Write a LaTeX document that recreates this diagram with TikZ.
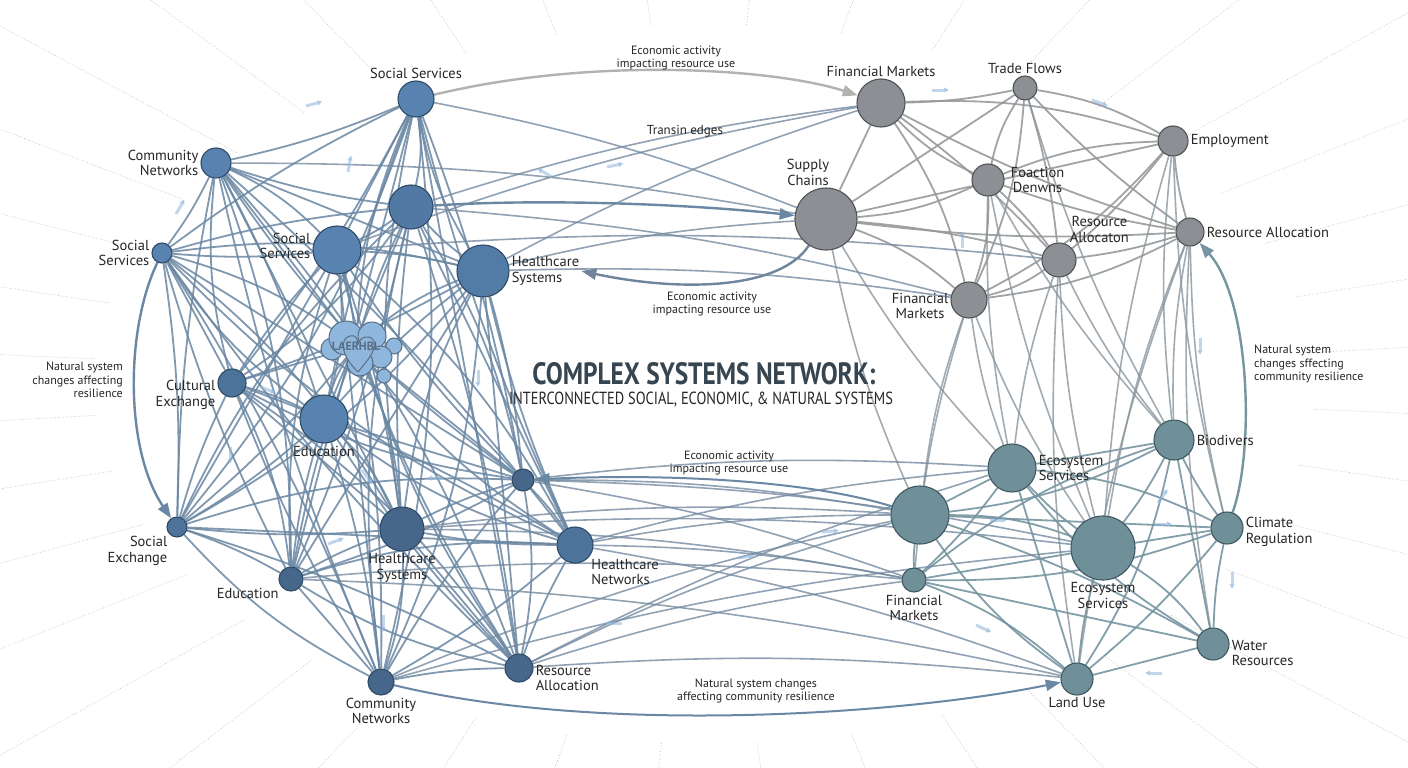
\documentclass[tikz,border=0pt]{standalone}
\usepackage{fontspec}
\setmainfont{PT Sans}
\usepackage{graphicx}
\usetikzlibrary{arrows.meta, calc}
\definecolor{bluefill}{HTML}{5883B0}
\definecolor{bluemid}{HTML}{4D739B}
\definecolor{bluedark}{HTML}{46668A}
\definecolor{blueline}{HTML}{2E4A66}
\definecolor{cloudfill}{HTML}{8FB6DC}
\definecolor{grayfill}{HTML}{8C8F93}
\definecolor{grayline}{HTML}{4F5256}
\definecolor{tealfill}{HTML}{6F8F99}
\definecolor{tealline}{HTML}{3F5861}
\definecolor{bedgecol}{HTML}{6A87A3}
\definecolor{gedgecol}{HTML}{97999C}
\definecolor{tedgecol}{HTML}{7695A0}
\definecolor{titlecol}{HTML}{36454F}
\pgfdeclarelayer{rays}
\pgfdeclarelayer{edges}
\pgfsetlayers{rays,edges,main}

\begin{document}
\begin{tikzpicture}[x=1pt,y=-1pt,
    bnode/.style={circle, draw=blueline, fill=bluefill, line width=1.1pt, inner sep=0pt, minimum size=#1},
    gnode/.style={circle, draw=grayline, fill=grayfill, line width=1.1pt, inner sep=0pt, minimum size=#1},
    tnode/.style={circle, draw=tealline, fill=tealfill, line width=1.1pt, inner sep=0pt, minimum size=#1},
    lbl/.style={font=\fontsize{14.5}{15.5}\selectfont, align=center, inner sep=2pt, text=black!85},
    elbl/.style={font=\fontsize{12}{13.5}\selectfont, align=center, inner sep=1pt, text=black!85},
    bedge/.style={draw=bedgecol, line width=1.8pt, opacity=.85},
    gedge/.style={draw=gedgecol, line width=1.8pt, opacity=.9},
    tedge/.style={draw=tedgecol, line width=1.8pt, opacity=.9},
    xedge/.style={draw=bedgecol!75!gedgecol, line width=1.6pt, opacity=.8},
    arr/.style={-{Triangle[length=15pt,width=11pt]}, line width=2.4pt},
    ghost/.style={-{Triangle[length=5pt,width=5pt]}, line width=3pt, draw=cloudfill, opacity=.55},
    ray/.style={dotted, draw=gray!50, line width=.7pt},
  ]
  \useasboundingbox (0,0) rectangle (1408,768);

  % background rays
  \begin{pgfonlayer}{rays}
    \fill[white] (0,0) rectangle (1408,768);
    \clip (0,0) rectangle (1408,768);
    \foreach \ang in {4,13,...,360}
      \draw[ray] ($(704,384)+(\ang:610 and 360)$) -- ($(704,384)+(\ang:1300 and 800)$);
  \end{pgfonlayer}

  % social cluster
  \node[bnode=36pt, label={[lbl]above:Social Services}] (SS1) at (416,99) {};
  \node[bnode=30pt, label={[lbl,align=right]left:Community\\Networks}] (CN1) at (216,163) {};
  \node[bnode=20pt, label={[lbl,align=right]left:Social\\Services}] (SS2) at (162,253) {};
  \node[bnode=44pt, fill=bluemid!60!bluefill] (B1) at (411,207) {};
  \node[bnode=48pt, label={[lbl,align=right,yshift=4pt]left:Social\\Services}] (SS3) at (337,250) {};
  \node[bnode=52pt, fill=bluemid!50!bluefill, label={[lbl,align=left,name=HS1l]right:Healthcare\\Systems}] (HS1) at (483,271) {};
  \node[bnode=28pt, fill=bluemid, label={[lbl,align=right,yshift=-12pt]left:Cultural\\Exchange}] (CE) at (232,383) {};
  \node[bnode=48pt, label={[lbl]below:Education}] (ED1) at (324,419) {};
  \node[bnode=20pt, fill=bluemid, label={[lbl,align=right]225:Social\\Exchange}] (SX) at (177,527) {};
  \node[bnode=24pt, fill=bluedark, label={[lbl]215:Education}] (ED2) at (291,579) {};
  \node[bnode=44pt, fill=bluedark, label={[lbl]below:Healthcare\\Systems}] (HS2) at (402,529) {};
  \node[bnode=22pt, fill=bluedark] (SM) at (523,480) {};
  \node[bnode=36pt, fill=bluemid, label={[lbl,align=left]-40:Healthcare\\Networks}] (HN) at (575,545) {};
  \node[bnode=26pt, fill=bluedark, label={[lbl]below:Community\\Networks}] (CN2) at (381,682) {};
  \node[bnode=28pt, fill=bluedark, label={[lbl,align=left,yshift=-10pt]right:Resource\\Allocation}] (RA1) at (519,668) {};

  % cloud
  \foreach \cx/\cy/\cr in {332/349/11, 346/338/17, 372/336/14, 394/346/8, 381/357/11, 360/363/13, 384/376/7}
    \filldraw[fill=cloudfill, draw=blueline!80, line width=1pt] (\cx,\cy) circle (\cr);
  \draw[fill=cloudfill, draw=blueline!80, line width=1pt] (358,372) .. controls (340,355) and (340,338) .. (350,336) .. controls (356,334) and (358,340) .. (358,344) .. controls (360,336) and (372,334) .. (374,342) .. controls (376,352) and (366,362) .. (358,372);
  \node[font=\fontsize{12}{12}\selectfont\bfseries, text=blueline!80, inner sep=1pt] (CL) at (356,346) {LAERHBL};

  % economic cluster
  \node[gnode=48pt, label={[lbl]above:Financial Markets}] (FM1) at (881,103) {};
  \node[gnode=24pt, label={[lbl]above:Trade Flows}] (TF) at (1025,88) {};
  \node[gnode=30pt, label={[lbl]right:Employment}] (EM) at (1173,141) {};
  \node[gnode=62pt, label={[lbl,xshift=-18pt]above:Supply\\Chains}] (SC) at (826,219) {};
  \node[gnode=32pt, label={[lbl,xshift=4pt]right:Foaction\\Denwns}] (FD) at (988,180) {};
  \node[gnode=34pt, label={[lbl]60:Resource\\Allocaton}] (RA2) at (1059,260) {};
  \node[gnode=28pt, label={[lbl]right:Resource Allocation}] (RA3) at (1190,232) {};
  \node[gnode=36pt, label={[lbl,yshift=-6pt]left:Financial\\Markets}] (FM2) at (969,300) {};

  % natural cluster
  \node[tnode=40pt, label={[lbl]right:Biodivers}] (BD) at (1174,440) {};
  \node[tnode=48pt, label={[lbl,align=left]right:Ecosystem\\Services}] (ES1) at (1012,468) {};
  \node[tnode=58pt] (BIG) at (920,515) {};
  \node[tnode=32pt, label={[lbl,align=left,yshift=-4pt]right:Climate\\Regulation}] (CR) at (1227,528) {};
  \node[tnode=64pt, label={[lbl]below:Ecosystem\\Services}] (ES2) at (1103,548) {};
  \node[tnode=24pt, label={[lbl]below:Financial\\Markets}] (FM3) at (914,580) {};
  \node[tnode=32pt, label={[lbl,align=left,yshift=-9pt]right:Water\\Resources}] (WR) at (1213,644) {};
  \node[tnode=32pt, label={[lbl]below:Land Use}] (LU) at (1077,679) {};

  % title
  \node[text=titlecol, inner sep=0pt] (title) at (704,374)
    {\resizebox{343pt}{22pt}{\bfseries COMPLEX SYSTEMS NETWORK:}};
  \node[text=black!85, inner sep=0pt, anchor=north] (subtitle) at (701,392)
    {\resizebox{384pt}{12.5pt}{INTERCONNECTED SOCIAL, ECONOMIC, \& NATURAL SYSTEMS}};

  % edge labels
  \node[elbl] (e1) at (676,58) {Economic activity\\impacting resource use};
  \node[elbl, font=\fontsize{13}{14}\selectfont] (e2) at (685,131) {Transin edges};
  \node[elbl] (e3) at (712,304) {Economic activity\\impacting resource use};
  \node[elbl] (e4) at (729,463) {Economic activity\\impacting resource use};
  \node[elbl] (e5) at (756,691) {Natural system changes\\affecting community resilience};
  \node[elbl, align=right, anchor=east] (e6) at (124,380) {Natural system\\changes affecting\\resilience};
  \node[elbl, align=left, anchor=west] (e7) at (1253,364) {Natural system\\changes sffecting\\community resilience};

  \begin{pgfonlayer}{edges}
    % dense links inside each cluster
    \foreach \a [count=\i] in {SS1,CN1,SS2,B1,SS3,HS1,CE,ED1,SX,ED2,HS2,SM,HN,CN2,RA1,CL}
      \foreach \b [count=\j] in {SS1,CN1,SS2,B1,SS3,HS1,CE,ED1,SX,ED2,HS2,SM,HN,CN2,RA1,CL}
        {\ifnum\j>\i\relax
          \pgfmathtruncatemacro\bnd{mod(\i*7+\j*3,5)*5-10}
          \draw[bedge] (\a) to[bend left=\bnd] (\b);
         \fi}
    \foreach \a [count=\i] in {FM1,TF,EM,SC,FD,RA2,RA3,FM2}
      \foreach \b [count=\j] in {FM1,TF,EM,SC,FD,RA2,RA3,FM2}
        {\ifnum\j>\i\relax
          \pgfmathtruncatemacro\bnd{mod(\i*5+\j*3,5)*5-10}
          \draw[gedge] (\a) to[bend left=\bnd] (\b);
         \fi}
    \foreach \a [count=\i] in {BD,ES1,BIG,CR,ES2,FM3,WR,LU}
      \foreach \b [count=\j] in {BD,ES1,BIG,CR,ES2,FM3,WR,LU}
        {\ifnum\j>\i\relax
          \pgfmathtruncatemacro\bnd{mod(\i*3+\j*7,5)*5-10}
          \draw[tedge] (\a) to[bend left=\bnd] (\b);
         \fi}
    % economic to natural
    \foreach \a/\b in {FM2/ES1, FM2/BIG, FM2/FM3, RA2/BD, RA2/ES2, RA2/LU, RA3/BD, RA3/ES2, RA3/CR, RA3/WR,
                       EM/BD, EM/ES2, FD/ES1, FD/ES2, FD/BD, SC/BIG, SC/ES1, TF/BD, RA2/ES1, FM2/ES2, RA3/LU, EM/CR}
      \draw[xedge, draw=gedgecol!60!tedgecol] (\a) to[bend right=6] (\b);
    % social to the others
    \foreach \a/\b in {SS3/FM1, HS1/FM1, B1/FM1, HS1/SC, SS1/SC, B1/FM2, SS3/RA2, CN1/SC, HS2/BIG, HN/BIG,
                       HN/FM3, RA1/FM3, RA1/BIG, SM/ES1, SM/FM3, SM/ES2, RA1/LU, ED2/FM3, HS2/FM3, CN2/ES2,
                       HN/LU, HN/ES1, RA1/ES1, CN2/BIG, ED2/LU, HS2/ES2, SM/BIG, HS1/FM2}
      \draw[xedge] (\a) to[bend left=5] (\b);

    % labelled flows
    \draw[arr, draw=gray!60] (SS1) .. controls (600,55) and (780,70) .. (FM1);
    \draw[arr, draw=bedgecol] (B1) .. controls (550,198) and (700,205) .. (SC);
    \draw[arr, draw=bedgecol!80!gray] (SC) .. controls (780,290) and (680,292) .. (HS1l.east);
    \draw[arr, draw=bedgecol, line width=2pt] (BIG) .. controls (800,478) and (650,474) .. (SM);
    \draw[arr, draw=bedgecol, line width=2pt] (CN2) .. controls (600,735) and (900,715) .. (LU);
    \draw[arr, draw=bedgecol] (SS2) .. controls (125,330) and (125,450) .. (SX);
    \draw[arr, draw=tedgecol] (CR) .. controls (1255,450) and (1250,300) .. (RA3);

    % faded flow marks
    \foreach \x/\y/\ang in {306/106/-15, 176/214/-60, 348/172/-80, 607/167/-12, 552/177/-150, 932/90/0,
                            1092/100/20, 962/248/-90, 478/370/90, 444/478/180, 1200/338/90, 1232/572/90,
                            1158/503/-55, 1155/524/0, 990/520/0, 976/625/25, 1162/673/180, 738/558/-8,
                            822/532/-5, 622/623/180, 328/544/-20, 383/615/90, 230/447/90, 260/387/20,
                            362/470/55}
      \draw[ghost] (\x,\y) -- ++(\ang:17);
  \end{pgfonlayer}
\end{tikzpicture}
\end{document}
